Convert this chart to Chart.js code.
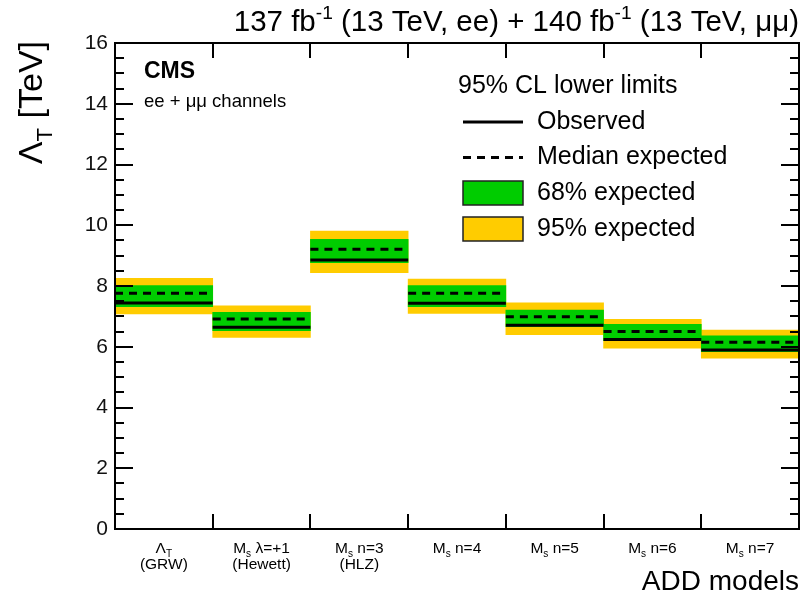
<!DOCTYPE html>
<html>
<head>
<meta charset="utf-8">
<script src="https://cdn.jsdelivr.net/npm/chart.js@4.4.0/dist/chart.umd.min.js"></script>
<style>
  body { margin: 0; background: #fff; }
  canvas { display: block; }
</style>
</head>
<body>
<canvas id="chart" width="804" height="597"></canvas>
<script>
// ADD model limits, one bin per model (TeV)
const categories = ['Λ_{T}', 'M_{s} λ=+1', 'M_{s} n=3', 'M_{s} n=4', 'M_{s} n=5', 'M_{s} n=6', 'M_{s} n=7'];
const subLabels = ['(GRW)', '(Hewett)', '(HLZ)', '', '', '', ''];

const observed  = [7.44, 6.64, 8.86, 7.43, 6.71, 6.24, 5.89];
const expMedian = [7.76, 6.91, 9.21, 7.76, 6.99, 6.50, 6.15];
const exp68Lo   = [7.32, 6.53, 8.77, 7.32, 6.66, 6.20, 5.84];
const exp68Hi   = [8.01, 7.13, 9.54, 8.01, 7.21, 6.74, 6.36];
const exp95Lo   = [7.08, 6.31, 8.44, 7.10, 6.40, 5.95, 5.62];
const exp95Hi   = [8.25, 7.35, 9.81, 8.23, 7.45, 6.90, 6.55];

const yMin = 0;
const yMax = 16;
const yMajorStep = 2;
const yMinorStep = 0.5;

const lumiText = '137 fb^{-1} (13 TeV, ee) + 140 fb^{-1} (13 TeV, μμ)';
const yTitle = 'Λ_{T} [TeV]';
const xTitle = 'ADD models';
const legendHeader = '95% CL lower limits';

const FONT = '"Liberation Sans", Arial, Helvetica, sans-serif';
const GREEN = '#00cc00';
const YELLOW = '#ffcc00';

// split "M_{s} n=3" style strings into plain / sub / sup pieces
function parseRich(str) {
  let parts = [];
  let re = /([_^])\{([^}]*)\}/g;
  let last = 0, m;
  while ((m = re.exec(str)) !== null) {
    if (m.index > last) parts.push({ text: str.slice(last, m.index), mode: '' });
    parts.push({ text: m[2], mode: m[1] });
    last = re.lastIndex;
  }
  if (last < str.length) parts.push({ text: str.slice(last), mode: '' });
  return parts;
}

function drawRich(ctx, str, x, y, size, align, weight) {
  let parts = parseRich(str);
  let w = weight || 'normal';
  let fontFor = (p) => w + ' ' + (p.mode ? size * 0.65 : size) + 'px ' + FONT;
  let total = 0;
  parts.forEach(p => { ctx.font = fontFor(p); p.w = ctx.measureText(p.text).width; total += p.w; });
  let cx = x;
  if (align === 'center') cx = x - total / 2;
  if (align === 'right') cx = x - total;
  ctx.textAlign = 'left';
  parts.forEach(p => {
    ctx.font = fontFor(p);
    let dy = 0;
    if (p.mode === '_') dy = size * 0.28;
    if (p.mode === '^') dy = -size * 0.42;
    ctx.fillText(p.text, cx, y + dy);
    cx += p.w;
  });
  return total;
}

// each bin value becomes a flat segment across its bin on the 0..N axis
function binLine(values) {
  let pts = [];
  values.forEach((v, i) => {
    pts.push({ x: i, y: v }, { x: i + 1, y: v }, { x: i + 1, y: null });
  });
  return pts;
}

const framePlugin = {
  id: 'rootFrame',
  afterDraw(chart) {
    const ctx = chart.ctx;
    const area = chart.chartArea;
    const y = chart.scales.y;
    const x = chart.scales.x;
    const x2 = chart.scales.x2;

    ctx.save();
    ctx.strokeStyle = '#000';
    ctx.fillStyle = '#000';
    ctx.lineWidth = 2;

    // ticks on both vertical axes, pointing inwards
    ctx.beginPath();
    for (let v = yMin; v <= yMax + 1e-6; v += yMinorStep) {
      let py = Math.round(y.getPixelForValue(v));
      let len = (Math.abs(v % yMajorStep) < 1e-6) ? 18 : 9;
      ctx.moveTo(area.left, py);
      ctx.lineTo(area.left + len, py);
      ctx.moveTo(area.right, py);
      ctx.lineTo(area.right - len, py);
    }
    // bin edges on top and bottom
    for (let i = 1; i < categories.length; i++) {
      let px = Math.round(x2.getPixelForValue(i));
      ctx.moveTo(px, area.bottom);
      ctx.lineTo(px, area.bottom - 15);
      ctx.moveTo(px, area.top);
      ctx.lineTo(px, area.top + 15);
    }
    ctx.stroke();
    ctx.strokeRect(area.left, area.top, area.right - area.left, area.bottom - area.top);

    // bin labels
    ctx.textBaseline = 'alphabetic';
    categories.forEach((c, i) => {
      let px = x.getPixelForValue(i);
      drawRich(ctx, c, px, area.bottom + 24, 15.5, 'center');
      if (subLabels[i]) drawRich(ctx, subLabels[i], px, area.bottom + 40, 15.5, 'center');
    });

    // axis titles
    drawRich(ctx, xTitle, area.right, 590, 28, 'right');
    ctx.save();
    ctx.translate(42, area.top - 2);
    ctx.rotate(-Math.PI / 2);
    drawRich(ctx, yTitle, 0, 0, 34, 'right');
    ctx.restore();

    drawRich(ctx, lumiText, area.right, 31, 29.5, 'right');
    drawRich(ctx, 'CMS', 144, 78, 23, 'left', 'bold');
    drawRich(ctx, 'ee + μμ channels', 144, 107, 18.5, 'left');

    // legend
    const lx = 463, lw = 60, tx = 537;
    ctx.textBaseline = 'middle';
    drawRich(ctx, legendHeader, 458, 86, 25, 'left');

    const ds = chart.data.datasets;
    ctx.lineWidth = 3;
    ctx.strokeStyle = ds[0].borderColor;
    ctx.setLineDash([]);
    ctx.beginPath();
    ctx.moveTo(lx, 122);
    ctx.lineTo(lx + lw, 122);
    ctx.stroke();
    drawRich(ctx, ds[0].label, tx, 122, 25, 'left');

    ctx.setLineDash(ds[1].borderDash);
    ctx.beginPath();
    ctx.moveTo(lx, 157.5);
    ctx.lineTo(lx + lw, 157.5);
    ctx.stroke();
    ctx.setLineDash([]);
    drawRich(ctx, ds[1].label, tx, 157.5, 25, 'left');

    [[ds[2], 193], [ds[3], 229]].forEach(([d, cy]) => {
      ctx.fillStyle = d.backgroundColor;
      ctx.fillRect(lx, cy - 12, lw, 24);
      ctx.lineWidth = 1.5;
      ctx.strokeStyle = '#222';
      ctx.strokeRect(lx, cy - 12, lw, 24);
      ctx.fillStyle = '#000';
      drawRich(ctx, d.label, tx, cy, 25, 'left');
    });

    ctx.restore();
  }
};

document.addEventListener('DOMContentLoaded', function() {
  let ctx = document.getElementById('chart').getContext('2d');

  new Chart(ctx, {
    type: 'bar',
    data: {
      labels: categories,
      datasets: [
        {
          type: 'line',
          label: 'Observed',
          data: binLine(observed),
          xAxisID: 'x2',
          borderColor: '#000',
          borderWidth: 3,
          pointRadius: 0,
          spanGaps: false,
          order: 0
        },
        {
          type: 'line',
          label: 'Median expected',
          data: binLine(expMedian),
          xAxisID: 'x2',
          borderColor: '#000',
          borderWidth: 3,
          borderDash: [8, 6],
          pointRadius: 0,
          spanGaps: false,
          order: 1
        },
        {
          label: '68% expected',
          data: exp68Lo.map((lo, i) => [lo, exp68Hi[i]]),
          xAxisID: 'x',
          backgroundColor: GREEN,
          borderWidth: 0,
          order: 2
        },
        {
          label: '95% expected',
          data: exp95Lo.map((lo, i) => [lo, exp95Hi[i]]),
          xAxisID: 'x',
          backgroundColor: YELLOW,
          borderWidth: 0,
          order: 3
        }
      ]
    },
    options: {
      responsive: false,
      animation: false,
      devicePixelRatio: 1,
      layout: { padding: { left: 0, top: 43, right: 5, bottom: 68 } },
      datasets: {
        bar: { barPercentage: 1, categoryPercentage: 1, grouped: false }
      },
      plugins: {
        legend: { display: false },
        tooltip: { enabled: false }
      },
      scales: {
        x: { type: 'category', display: false, offset: true },
        x2: { type: 'linear', display: false, min: 0, max: categories.length, offset: false },
        y: {
          min: yMin,
          max: yMax,
          grid: { display: false, drawTicks: false, tickLength: 0 },
          border: { display: false },
          ticks: {
            stepSize: yMajorStep,
            padding: 7,
            color: '#111',
            font: { family: FONT, size: 21 }
          },
          afterFit: function(scale) { scale.width = 115; }
        }
      }
    },
    plugins: [framePlugin]
  });
});
</script>
</body>
</html>
